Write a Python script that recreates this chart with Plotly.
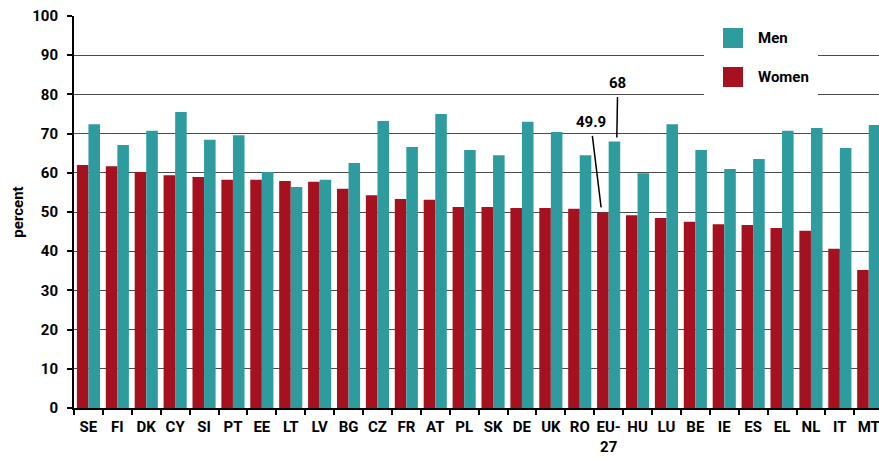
import plotly.graph_objects as go

# Employment rates by sex, percent
countries = ["SE", "FI", "DK", "CY", "SI", "PT", "EE", "LT", "LV", "BG", "CZ", "FR", "AT", "PL",
             "SK", "DE", "UK", "RO", "EU-27", "HU", "LU", "BE", "IE", "ES", "EL", "NL", "IT", "MT"]
women = [62.0, 61.7, 60.2, 59.4, 58.9, 58.2, 58.2, 57.9, 57.7, 55.9, 54.3, 53.3, 53.1, 51.3,
         51.3, 51.0, 51.0, 50.8, 49.9, 49.2, 48.5, 47.5, 46.9, 46.7, 45.9, 45.2, 40.6, 35.2]
men = [72.4, 67.1, 70.7, 75.5, 68.4, 69.6, 60.2, 56.4, 58.2, 62.5, 73.2, 66.6, 75.0, 65.8,
       64.5, 73.0, 70.4, 64.5, 68.0, 59.9, 72.4, 65.8, 61.0, 63.5, 70.7, 71.4, 66.3, 72.2]
y_ticks = list(range(0, 101, 10))

MEN_COLOR = "#2E9C9F"
WOMEN_COLOR = "#A6111F"
FONT = "Roboto, sans-serif"
FS = 15

labels = [c.replace("EU-27", "EU-<br>27") for c in countries]

fig = go.Figure()
fig.add_trace(go.Bar(x=labels, y=women, name="Women", marker_color=WOMEN_COLOR,
                     marker_line_width=0, showlegend=False))
fig.add_trace(go.Bar(x=labels, y=men, name="Men", marker_color=MEN_COLOR,
                     marker_line_width=0, showlegend=False))

W, H = 879, 458
ml, mt, mb = 74, 16, 50
plot_w = W - ml
cat_px = 28.9
x_range = [-0.5, -0.5 + plot_w / cat_px]

fig.update_layout(
    width=W, height=H,
    margin=dict(l=ml, r=0, t=mt, b=mb),
    paper_bgcolor="white", plot_bgcolor="white",
    barmode="group", bargap=0.2, bargroupgap=0,
    font=dict(family=FONT, size=FS, color="black"),
)
fig.update_xaxes(
    range=x_range, tickson="boundaries", ticks="outside", ticklen=5, tickwidth=1.5,
    tickcolor="black", showline=True, linecolor="black", linewidth=2,
    showgrid=False, tickangle=0, automargin=False, ticklabelstandoff=4,
    tickfont=dict(family=FONT, size=FS, color="black", weight="bold"),
)
fig.update_yaxes(
    range=[0, 100], tickvals=y_ticks, ticks="outside", ticklen=5, tickwidth=1.5,
    tickcolor="black", showline=True, linecolor="black", linewidth=2,
    showgrid=True, gridcolor="#4a4a4a", gridwidth=1, zeroline=False,
    ticklabelstandoff=6, automargin=False,
    tickfont=dict(family=FONT, size=FS, color="black", weight="bold"),
    title=dict(text="percent", standoff=5,
               font=dict(family=FONT, size=15, color="black", weight="bold")),
)

# Callouts for the EU-27 values
i_eu = countries.index("EU-27")
fig.add_annotation(x=i_eu + 0.28, y=men[i_eu], text=f"{men[i_eu]:g}", showarrow=True,
                   arrowhead=0, arrowwidth=1.5, arrowcolor="black", standoff=4,
                   ax=1, ay=-58, borderpad=4,
                   font=dict(family=FONT, size=FS, color="black", weight="bold"))
fig.add_annotation(x=i_eu - 0.24, y=women[i_eu], text=f"{women[i_eu]:g}", showarrow=True,
                   arrowhead=0, arrowwidth=1.5, arrowcolor="black", standoff=5,
                   ax=-11, ay=-90, borderpad=4,
                   font=dict(family=FONT, size=FS, color="black", weight="bold"))


# Legend drawn in paper coordinates from pixel positions
def px(x):
    return (x - ml) / plot_w


def py(y):
    return (H - mb - y) / (H - mt - mb)


fig.add_shape(type="rect", xref="paper", yref="paper", x0=px(704), x1=px(818),
              y0=py(104), y1=py(0), fillcolor="white", line_width=0, layer="above")
for name, color, yc in [("Men", MEN_COLOR, 38), ("Women", WOMEN_COLOR, 77)]:
    fig.add_shape(type="rect", xref="paper", yref="paper", x0=px(723), x1=px(743),
                  y0=py(yc + 10), y1=py(yc - 10), fillcolor=color, line_width=0,
                  layer="above")
    fig.add_annotation(xref="paper", yref="paper", x=px(756), y=py(yc), text=name,
                       showarrow=False, xanchor="left", yanchor="middle",
                       font=dict(family=FONT, size=FS, color="black", weight="bold"))

fig.write_html("out.html")
